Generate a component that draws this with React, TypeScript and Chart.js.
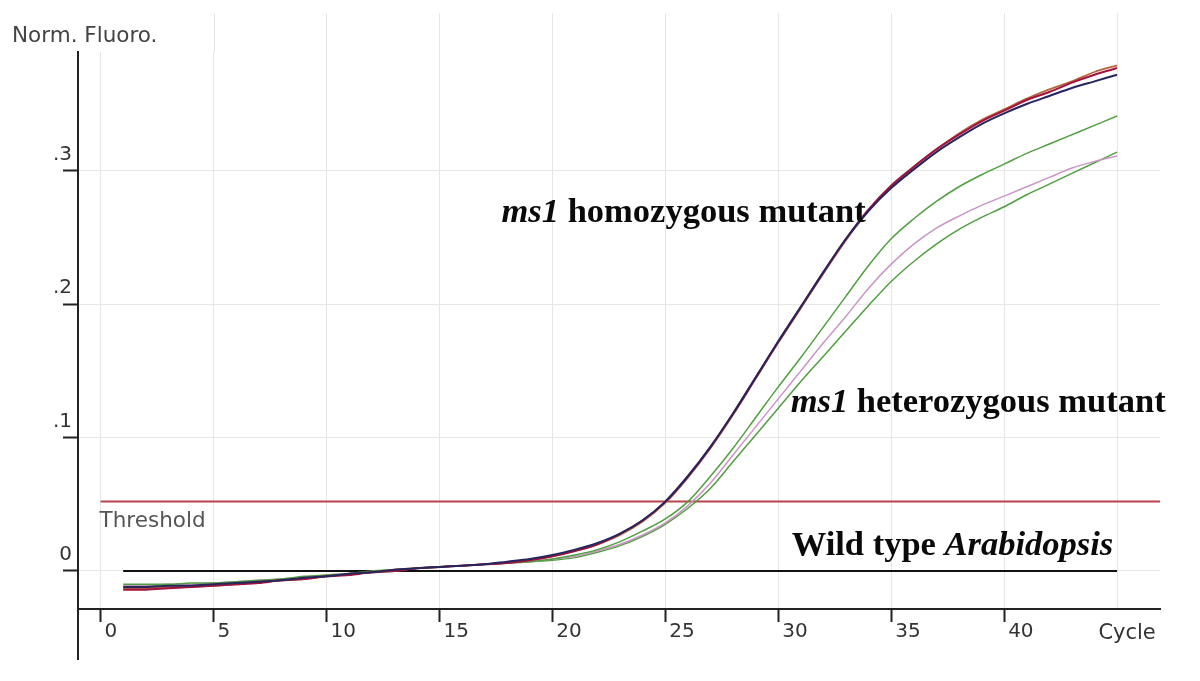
import React, { useEffect, useRef } from 'react';
import { Chart, registerables } from 'chart.js';

Chart.register(...registerables);

// ---------- data ----------
const CYCLES = [1, 2, 3, 4, 5, 6, 7, 8, 9, 10, 11, 12, 13, 14, 15, 16, 17, 18, 19, 20, 21, 22, 23, 24, 25, 26, 27, 28, 29, 30, 31, 32, 33, 34, 35, 36, 37, 38, 39, 40, 41, 42, 43, 44, 45];

// ms1 homozygous mutant replicates
const HOMO_NAVY = [-0.012, -0.012, -0.011, -0.011, -0.010, -0.009, -0.008, -0.007, -0.005, -0.004, -0.002, -0.001, 0.001, 0.002, 0.003, 0.004, 0.005, 0.007, 0.009, 0.012, 0.016, 0.021, 0.028, 0.038, 0.052, 0.071, 0.093, 0.118, 0.145, 0.172, 0.198, 0.224, 0.249, 0.270, 0.287, 0.301, 0.314, 0.325, 0.335, 0.343, 0.350, 0.356, 0.362, 0.367, 0.372];
const HOMO_CRIMSON = [-0.014, -0.014, -0.013, -0.012, -0.011, -0.010, -0.009, -0.007, -0.006, -0.004, -0.003, -0.001, 0.000, 0.002, 0.003, 0.004, 0.005, 0.006, 0.008, 0.011, 0.015, 0.020, 0.028, 0.038, 0.052, 0.071, 0.093, 0.118, 0.145, 0.172, 0.198, 0.224, 0.249, 0.271, 0.289, 0.303, 0.316, 0.327, 0.337, 0.345, 0.353, 0.359, 0.366, 0.372, 0.377];
const HOMO_SIENNA = [-0.013, -0.013, -0.012, -0.012, -0.011, -0.010, -0.008, -0.007, -0.006, -0.004, -0.002, -0.001, 0.001, 0.002, 0.003, 0.004, 0.005, 0.006, 0.008, 0.011, 0.015, 0.020, 0.027, 0.037, 0.051, 0.070, 0.092, 0.117, 0.144, 0.171, 0.197, 0.223, 0.248, 0.270, 0.288, 0.303, 0.316, 0.328, 0.338, 0.346, 0.354, 0.361, 0.367, 0.374, 0.379];

// ms1 heterozygous mutant replicates
const HET_GREEN_UPPER = [-0.010, -0.010, -0.010, -0.009, -0.009, -0.008, -0.007, -0.006, -0.004, -0.003, -0.002, 0.000, 0.001, 0.002, 0.003, 0.004, 0.005, 0.006, 0.007, 0.009, 0.012, 0.016, 0.022, 0.030, 0.039, 0.052, 0.071, 0.092, 0.115, 0.138, 0.160, 0.183, 0.206, 0.229, 0.249, 0.264, 0.277, 0.288, 0.297, 0.305, 0.313, 0.320, 0.327, 0.334, 0.341];
const HET_PINK = [-0.011, -0.011, -0.010, -0.010, -0.009, -0.008, -0.007, -0.006, -0.005, -0.003, -0.002, -0.001, 0.001, 0.002, 0.003, 0.004, 0.005, 0.006, 0.007, 0.009, 0.011, 0.015, 0.020, 0.027, 0.036, 0.049, 0.066, 0.087, 0.108, 0.129, 0.150, 0.171, 0.191, 0.212, 0.230, 0.245, 0.257, 0.266, 0.274, 0.281, 0.288, 0.295, 0.302, 0.307, 0.311];
const HET_GREEN_LOWER = [-0.012, -0.012, -0.011, -0.011, -0.010, -0.009, -0.008, -0.006, -0.005, -0.004, -0.002, -0.001, 0.000, 0.002, 0.003, 0.004, 0.005, 0.006, 0.007, 0.008, 0.010, 0.014, 0.019, 0.026, 0.035, 0.047, 0.062, 0.082, 0.102, 0.122, 0.142, 0.161, 0.180, 0.199, 0.217, 0.232, 0.245, 0.256, 0.265, 0.273, 0.282, 0.290, 0.298, 0.306, 0.314];

// Wild type Arabidopsis (no amplification)
const WILD_TYPE = [0, 0, 0, 0, 0, 0, 0, 0, 0, 0, 0, 0, 0, 0, 0, 0, 0, 0, 0, 0, 0, 0, 0, 0, 0, 0, 0, 0, 0, 0, 0, 0, 0, 0, 0, 0, 0, 0, 0, 0, 0, 0, 0, 0, 0];

const THRESHOLD = 0.052;
const THRESHOLD_START = 0;

const X_MIN = -1;
const X_MAX = 46.9;
const Y_MIN = -0.0285;
const Y_MAX = 0.389;

const X_TICKS = [0, 5, 10, 15, 20, 25, 30, 35, 40, 45];
const X_TICK_LABELS = ['0', '5', '10', '15', '20', '25', '30', '35', '40', 'Cycle'];
const Y_TICKS = [0, 0.1, 0.2, 0.3];
const Y_TICK_LABELS = ['0', '.1', '.2', '.3'];

const Y_AXIS_TITLE = 'Norm. Fluoro.';
const THRESHOLD_LABEL = 'Threshold';
const LABEL_HOMO: [string, boolean][] = [['ms1', true], [' homozygous mutant', false]];
const LABEL_HET: [string, boolean][] = [['ms1', true], [' heterozygous mutant', false]];
const LABEL_WT: [string, boolean][] = [['Wild type ', false], ['Arabidopsis', true]];

// label anchors in data coordinates (cycle, fluorescence) : left / baseline
const HOMO_LABEL_AT = { x: 17.75, y: 0.2615 };
const HET_LABEL_AT = { x: 30.55, y: 0.1195 };
const WT_LABEL_AT = { x: 30.6, y: 0.012 };

const pts = (ys: number[]) => ys.map((y, i) => ({ x: CYCLES[i], y }));

function drawRich(ctx: CanvasRenderingContext2D, parts: [string, boolean][], x: number, y: number, size: number) {
  let cx = x;
  for (const [t, italic] of parts) {
    ctx.font = `${italic ? 'italic ' : ''}bold ${size}px "Liberation Serif", "Times New Roman", serif`;
    ctx.fillText(t, cx, y);
    cx += ctx.measureText(t).width;
  }
}

const annotations = {
  id: 'annotations',
  beforeDatasetsDraw(chart: any) {
    const { ctx, chartArea, scales } = chart;
    const xs = scales.x;
    ctx.save();
    // vertical grid lines continue above plot top
    ctx.strokeStyle = '#e6e6e6';
    ctx.lineWidth = 1;
    for (const v of X_TICKS) {
      if (v === 0) continue;
      const px = Math.round(xs.getPixelForValue(v)) + 0.5;
      ctx.beginPath();
      ctx.moveTo(px, 13);
      ctx.lineTo(px, chartArea.top);
      ctx.stroke();
    }
    ctx.restore();
  },
  afterDraw(chart: any) {
    const { ctx, chartArea, scales } = chart;
    const xs = scales.x;
    const ys = scales.y;
    ctx.save();
    // y-axis line extends below x axis
    ctx.strokeStyle = '#222';
    ctx.lineWidth = 2;
    ctx.beginPath();
    ctx.moveTo(chartArea.left, chartArea.bottom);
    ctx.lineTo(chartArea.left, 660);
    ctx.stroke();

    ctx.fillStyle = '#444';
    ctx.textBaseline = 'alphabetic';
    ctx.textAlign = 'left';
    ctx.font = '21.5px "DejaVu Sans", sans-serif';
    ctx.fillText(Y_AXIS_TITLE, 12, 42);

    // Threshold label
    ctx.fillStyle = '#555';
    ctx.font = '21.5px "DejaVu Sans", sans-serif';
    ctx.fillText(THRESHOLD_LABEL, xs.getPixelForValue(THRESHOLD_START) - 1, ys.getPixelForValue(THRESHOLD) + 25);

    // "Cycle" axis label at the last tick
    ctx.fillStyle = '#333';
    ctx.font = '21px "DejaVu Sans", sans-serif';
    ctx.textAlign = 'center';
    ctx.fillText(X_TICK_LABELS[X_TICK_LABELS.length - 1], xs.getPixelForValue(X_TICKS[X_TICKS.length - 1]) + 10, 639);

    // curve annotations
    ctx.textAlign = 'left';
    ctx.fillStyle = '#0a0a0a';
    drawRich(ctx, LABEL_HOMO, xs.getPixelForValue(HOMO_LABEL_AT.x), ys.getPixelForValue(HOMO_LABEL_AT.y), 34.5);
    drawRich(ctx, LABEL_HET, xs.getPixelForValue(HET_LABEL_AT.x), ys.getPixelForValue(HET_LABEL_AT.y), 34.5);
    drawRich(ctx, LABEL_WT, xs.getPixelForValue(WT_LABEL_AT.x), ys.getPixelForValue(WT_LABEL_AT.y), 34.5);
    ctx.restore();
  },
};

export default function App() {
  const ref = useRef<HTMLCanvasElement>(null);

  useEffect(() => {
    document.body.style.margin = '0';
    const canvas = ref.current;
    if (!canvas) return;
    const line = (label: string, data: number[], color: string, width: number) => ({
      label,
      data: pts(data),
      borderColor: color,
      borderWidth: width,
      pointRadius: 0,
      fill: false,
      cubicInterpolationMode: 'monotone' as const,
    });
    const chart = new Chart(canvas, {
      type: 'line',
      data: {
        datasets: [
          line('ms1 homozygous 1', HOMO_NAVY, '#26265e', 2),
          line('ms1 homozygous 2', HOMO_CRIMSON, '#a3133f', 2),
          line('ms1 homozygous 3', HOMO_SIENNA, '#b8653e', 1.8),
          line('ms1 heterozygous 1', HET_GREEN_UPPER, '#4f9f3f', 1.5),
          line('ms1 heterozygous 2', HET_PINK, '#c995c4', 1.5),
          line('ms1 heterozygous 3', HET_GREEN_LOWER, '#4f9f3f', 1.5),
          {
            label: 'Wild type',
            data: pts(WILD_TYPE),
            borderColor: '#111',
            borderWidth: 2,
            pointRadius: 0,
            fill: false,
          },
          {
            label: 'Threshold',
            data: [{ x: THRESHOLD_START, y: THRESHOLD }, { x: X_MAX, y: THRESHOLD }],
            borderColor: '#b9434c',
            borderWidth: 2,
            pointRadius: 0,
            fill: false,
          },
        ],
      },
      options: {
        responsive: false,
        animation: false,
        events: [],
        layout: { padding: { top: 52, right: 40, left: 0, bottom: 0 } },
        plugins: { legend: { display: false }, tooltip: { enabled: false } },
        scales: {
          x: {
            type: 'linear',
            min: X_MIN,
            max: X_MAX,
            afterFit: (s: any) => { s.height = 72; },
            afterBuildTicks: (s: any) => { s.ticks = X_TICKS.map((v) => ({ value: v })); },
            border: { display: true, color: '#222', width: 2 },
            grid: {
              color: '#e6e6e6',
              lineWidth: 1,
              drawTicks: true,
              tickLength: 13,
              tickWidth: 2,
              tickColor: (c: any) => (c.tick && c.tick.value === 45 ? 'rgba(0,0,0,0)' : '#222'),
            },
            ticks: {
              align: 'start',
              labelOffset: 4,
              padding: -2,
              maxRotation: 0,
              autoSkip: false,
              color: '#333',
              font: { family: '"DejaVu Sans", sans-serif', size: 20 },
              callback: (v: any) => {
                const i = X_TICKS.indexOf(Number(v));
                return i >= 0 && i < X_TICKS.length - 1 ? X_TICK_LABELS[i] : '';
              },
            },
          },
          y: {
            type: 'linear',
            min: Y_MIN,
            max: Y_MAX,
            afterFit: (s: any) => { s.width = 78; },
            afterBuildTicks: (s: any) => { s.ticks = Y_TICKS.map((v) => ({ value: v })); },
            border: { display: true, color: '#222', width: 2 },
            grid: {
              color: '#e6e6e6',
              lineWidth: 1,
              drawTicks: true,
              tickLength: 15,
              tickWidth: 2,
              tickColor: '#222',
            },
            ticks: {
              labelOffset: -16,
              padding: -9,
              color: '#333',
              font: { family: '"DejaVu Sans", sans-serif', size: 20 },
              callback: (v: any) => {
                const i = Y_TICKS.findIndex((t) => Math.abs(t - Number(v)) < 1e-9);
                return i >= 0 ? Y_TICK_LABELS[i] : '';
              },
            },
          },
        },
      },
      plugins: [annotations],
    });
    return () => chart.destroy();
  }, []);

  return (
    <div style={{ width: 1200, height: 681, background: '#fff' }}>
      <canvas ref={ref} width={1200} height={681} style={{ display: 'block' }} />
    </div>
  );
}
